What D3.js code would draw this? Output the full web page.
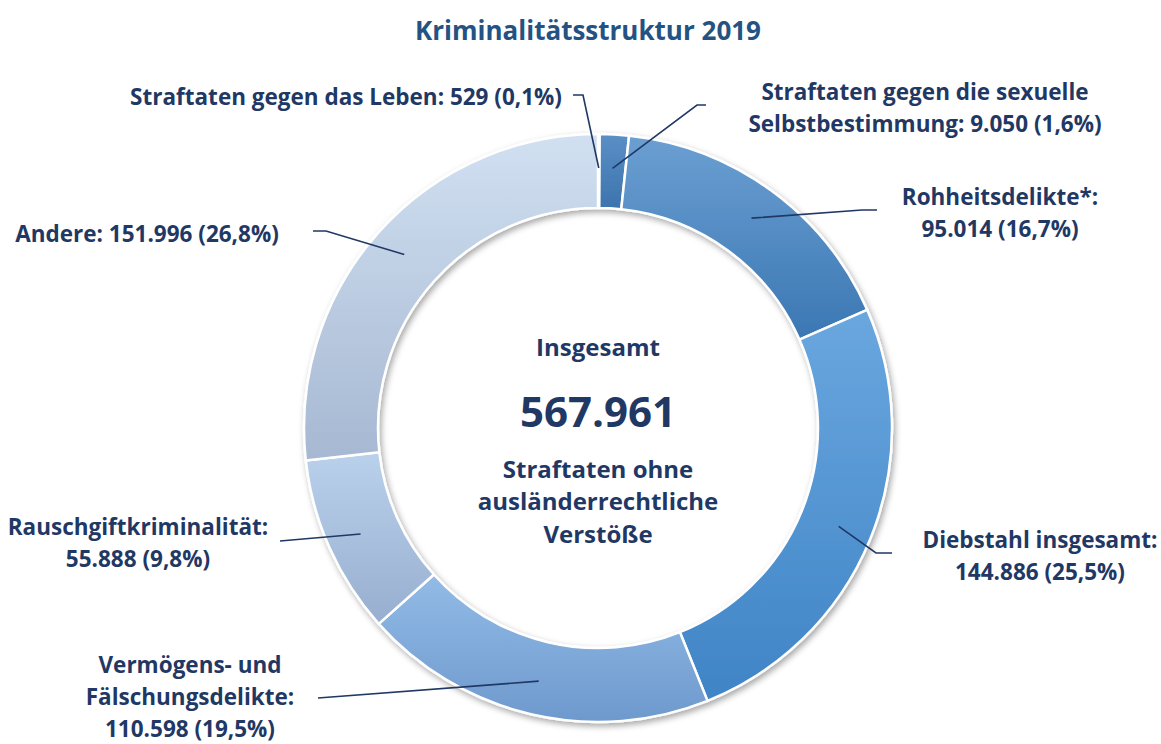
<!DOCTYPE html>
<html lang="de">
<head>
<meta charset="utf-8">
<script src="https://cdn.jsdelivr.net/npm/d3@7"></script>
<style>
  body { margin: 0; background: #fff; }
  svg text { font-family: 'Open Sans', Lato, sans-serif; font-weight: 700; }
</style>
</head>
<body>
<div id="chart"></div>
<script>
const title = 'Kriminalitätsstruktur 2019';

const categories = [
  'Straftaten gegen das Leben',
  'Straftaten gegen die sexuelle Selbstbestimmung',
  'Rohheitsdelikte*',
  'Diebstahl insgesamt',
  'Vermögens- und Fälschungsdelikte',
  'Rauschgiftkriminalität',
  'Andere'
];
const values = [529, 9050, 95014, 144886, 110598, 55888, 151996];

const centerLines = ['Insgesamt', null, 'Straftaten ohne', 'ausländerrechtliche', 'Verstöße'];

// slice colours, top and bottom of each vertical gradient
const colorsTop    = ['#e4ecf6', '#5b8fc6', '#6b9fd2', '#6aa7df', '#92bbe6', '#bad1ec', '#d1e0f1'];
const colorsBottom = ['#c9d8ea', '#3c73ad', '#3b77b3', '#3f84c6', '#6e99cd', '#97aecf', '#a6b8d2'];

// label layout: word index after which the label wraps, text anchor, first baseline, elbow points
const labelLayout = [
  {breaks: [],     x: 562,  y: 105, anchor: 'end',    elbow: [[583, 95], [573, 95]]},
  {breaks: [4],    x: 925,  y: 100, anchor: 'middle', elbow: [[697, 105], [706, 105]]},
  {breaks: [1],    x: 1000, y: 205, anchor: 'middle', elbow: [[862, 210], [877, 210]]},
  {breaks: [2],    x: 1040, y: 548, anchor: 'middle', elbow: [[876, 553], [892, 553]]},
  {breaks: [2, 3], x: 190,  y: 673, anchor: 'middle', elbow: [[318, 698]]},
  {breaks: [1],    x: 138,  y: 535, anchor: 'middle', elbow: [[280, 541]]},
  {breaks: [],     x: 147,  y: 242, anchor: 'middle', elbow: [[326, 231], [313, 231]]}
];

const width = 1161, height = 744;
const cx = 598, cy = 428, outerR = 294, innerR = 220, labelR = 260;
const lineH = 32;
const navy = '#1f3864';

const de = d3.formatLocale({decimal: ',', thousands: '.', grouping: [3], currency: ['', ' €']});
const fmtNum = de.format(',d'), fmtPct = de.format('.1f');

const total = d3.sum(values);
const data = categories.map((c, i) => ({name: c, value: values[i], i: i}));

const svg = d3.select('#chart').append('svg')
    .attr('width', width)
    .attr('height', height);

const defs = svg.append('defs');

const shadow = defs.append('filter')
    .attr('id', 'shadow')
    .attr('x', '-10%').attr('y', '-10%')
    .attr('width', '120%').attr('height', '120%');
shadow.append('feDropShadow')
    .attr('dx', 2).attr('dy', 3)
    .attr('stdDeviation', 3)
    .attr('flood-color', '#000')
    .attr('flood-opacity', 0.35);

data.forEach(function(d) {
  const g = defs.append('linearGradient')
      .attr('id', 'grad' + d.i)
      .attr('x1', '0%').attr('y1', '0%')
      .attr('x2', '0%').attr('y2', '100%');
  g.append('stop').attr('offset', '0%').attr('stop-color', colorsTop[d.i]);
  g.append('stop').attr('offset', '100%').attr('stop-color', colorsBottom[d.i]);
});

svg.append('text')
    .attr('x', 588)
    .attr('y', 40)
    .attr('text-anchor', 'middle')
    .style('font-size', '26px')
    .style('fill', '#245282')
    .text(title);

const pie = d3.pie().sort(null).value(d => d.value);
const arc = d3.arc().innerRadius(innerR).outerRadius(outerR);
const arcs = pie(data);

const ring = svg.append('g')
    .attr('transform', 'translate(' + cx + ',' + cy + ')');

ring.append('g')
    .attr('filter', 'url(#shadow)')
  .selectAll('path')
    .data(arcs)
  .enter().append('path')
    .attr('d', arc)
    .attr('fill', d => 'url(#grad' + d.data.i + ')')
    .attr('stroke', '#fff')
    .attr('stroke-width', 2.5)
    .attr('stroke-linejoin', 'round');

// leader lines from the middle of each slice to the label
const line = d3.line();
svg.append('g').selectAll('path')
    .data(arcs)
  .enter().append('path')
    .attr('fill', 'none')
    .attr('stroke', navy)
    .attr('stroke-width', 1.6)
    .attr('d', function(d) {
      const a = (d.startAngle + d.endAngle) / 2;
      const start = [cx + labelR * Math.sin(a), cy - labelR * Math.cos(a)];
      return line([start].concat(labelLayout[d.data.i].elbow));
    });

// labels
arcs.forEach(function(d) {
  const lay = labelLayout[d.data.i];
  const words = (d.data.name + ': ' + fmtNum(d.data.value) + ' (' +
      fmtPct(d.data.value / total * 100) + '%)').split(' ');
  const lines = [];
  let from = 0;
  lay.breaks.concat([words.length]).forEach(function(b) {
    lines.push(words.slice(from, b).join(' '));
    from = b;
  });
  const t = svg.append('text')
      .attr('text-anchor', lay.anchor)
      .style('font-size', '22.5px')
      .style('fill', navy);
  lines.forEach(function(l, k) {
    t.append('tspan')
        .attr('x', lay.x)
        .attr('y', lay.y + k * lineH)
        .text(l);
  });
});

// centre text
const centreY = [356, 427, 478, 510, 543];
centerLines.forEach(function(l, k) {
  svg.append('text')
      .attr('x', cx)
      .attr('y', centreY[k])
      .attr('text-anchor', 'middle')
      .style('font-size', l === null ? '42px' : '24px')
      .style('fill', navy)
      .text(l === null ? fmtNum(total) : l);
});
</script>
</body>
</html>
